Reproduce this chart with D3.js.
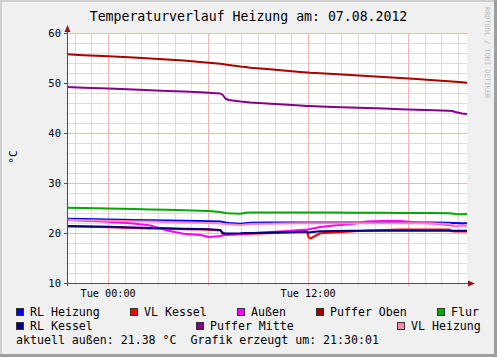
<!DOCTYPE html>
<html><head><meta charset="utf-8">
<script src="https://cdn.jsdelivr.net/npm/d3@7"></script>
<style>body{margin:0;background:#F0F0F0} svg{display:block}</style>
</head><body><svg id="c" width="497" height="357"></svg>
<script>
// ---- data ----
const times = ["2012-08-06 21:32","2012-08-06 22:32","2012-08-07 00:02","2012-08-07 01:32","2012-08-07 02:32",
  "2012-08-07 03:32","2012-08-07 04:32","2012-08-07 05:32","2012-08-07 06:02","2012-08-07 06:44",
  "2012-08-07 06:53","2012-08-07 07:02","2012-08-07 07:14","2012-08-07 07:56","2012-08-07 08:14",
  "2012-08-07 08:32","2012-08-07 09:32","2012-08-07 10:32","2012-08-07 11:32","2012-08-07 11:56",
  "2012-08-07 12:02","2012-08-07 12:08","2012-08-07 12:44","2012-08-07 13:32","2012-08-07 14:32",
  "2012-08-07 15:32","2012-08-07 16:32","2012-08-07 17:32","2012-08-07 18:32","2012-08-07 19:32",
  "2012-08-07 20:26","2012-08-07 20:38","2012-08-07 20:50","2012-08-07 21:14","2012-08-07 21:32"];
const rlHeizung = [22.85,22.8,22.7,22.6,22.55,22.5,22.45,22.4,22.35,22.3,
  22.2,22.1,22.0,21.85,21.95,22.05,22.1,22.1,22.1,22.1,
  22.1,22.1,22.1,22.1,22.1,22.1,22.1,22.1,22.1,22.1,
  22.05,22.0,22.0,21.95,21.95];
const vlKessel = [21.3,21.25,21.15,21.0,20.9,20.85,20.75,20.7,20.65,20.5,
  19.85,19.7,19.7,19.75,19.8,19.85,19.95,20.05,20.15,20.2,
  19.1,18.9,19.95,20.1,20.3,20.5,20.6,20.7,20.7,20.7,
  20.7,20.35,20.3,20.3,20.3];
const aussen = [22.6,22.45,22.25,21.9,21.5,20.5,19.85,19.6,19.2,19.4,
  19.55,19.6,19.65,19.8,19.9,19.95,20.15,20.35,20.6,20.7,
  20.75,20.8,21.2,21.5,21.75,22.3,22.4,22.4,22.1,21.9,
  21.6,21.5,21.4,21.5,21.4];
const pufferOben = [55.75,55.55,55.35,55.1,54.9,54.7,54.5,54.2,54.05,53.85,
  53.8,53.7,53.6,53.3,53.2,53.05,52.8,52.5,52.2,52.1,
  52.1,52.05,51.95,51.8,51.6,51.4,51.2,51.0,50.8,50.55,
  50.35,50.3,50.25,50.15,50.05];
const flur = [25.05,25.0,24.9,24.8,24.7,24.65,24.55,24.45,24.4,24.2,
  24.1,24.0,23.95,23.85,24.05,24.1,24.1,24.1,24.1,24.1,
  24.1,24.1,24.1,24.1,24.05,24.05,24.05,24.0,24.0,24.0,
  23.95,23.9,23.8,23.75,23.85];
const rlKessel = [21.4,21.35,21.25,21.1,21.0,20.95,20.85,20.8,20.75,20.6,
  20.0,19.9,19.9,19.95,20.0,20.0,20.05,20.15,20.25,20.3,
  20.05,20.15,20.35,20.4,20.45,20.45,20.45,20.45,20.45,20.45,
  20.45,20.45,20.45,20.45,20.45];
const pufferMitte = [49.2,49.05,48.9,48.7,48.55,48.4,48.3,48.15,48.05,47.9,
  47.6,46.9,46.6,46.3,46.2,46.1,45.9,45.7,45.5,45.4,
  45.4,45.4,45.3,45.2,45.1,45.0,44.9,44.75,44.65,44.55,
  44.45,44.4,44.2,43.9,43.8];
const vlHeizung = [22.65,22.55,22.45,22.35,22.3,22.2,22.1,22.05,22.0,21.9,
  21.85,21.8,21.75,21.6,21.7,21.8,21.85,21.9,21.95,21.95,
  21.95,21.95,21.95,21.95,21.95,21.95,21.95,21.95,21.95,21.9,
  21.8,21.6,21.45,21.4,21.4];
const seriesNames = ["RL Heizung","VL Kessel","Außen","Puffer Oben","Flur","RL Kessel","Puffer Mitte","VL Heizung"];
const seriesValues = [rlHeizung, vlKessel, aussen, pufferOben, flur, rlKessel, pufferMitte, vlHeizung];
const seriesColors = ["#0000FF","#FF0000","#FF00FF","#AA0000","#00AA00","#000080","#880088","#FF88AA"];
const yTicks = [10,20,30,40,50,60];
const xTickLabels = ["Tue 00:00","Tue 12:00"];
const title = "Temperaturverlauf Heizung am: 07.08.2012";
const yLabel = "°C";
const footer = "aktuell außen: 21.38 °C  Grafik erzeugt um: 21:30:01";
const watermark = "RRDTOOL / TOBI OETIKER";

// ---- layout ----
const W = 497, H = 357;
const X0 = 67, X1 = 467, Y0 = 283, Y1 = 33;
const FONT = "'DejaVu Sans Mono', monospace";
const parse = d3.timeParse("%Y-%m-%d %H:%M");
const tDates = times.map(parse);
const x = d3.scaleTime().domain([tDates[0], tDates[tDates.length-1]]).range([X0, X1]);
const y = d3.scaleLinear().domain([10, 60]).range([Y0, Y1]);

const svg = d3.select("#c");
svg.append("rect").attr("width", W).attr("height", H).attr("fill", "#F0F0F0");
svg.append("rect").attr("x",0).attr("y",0).attr("width",W).attr("height",2).attr("fill","#CFCFCF");
svg.append("rect").attr("x",0).attr("y",0).attr("width",2).attr("height",H).attr("fill","#CFCFCF");
svg.append("rect").attr("x",W-3).attr("y",0).attr("width",3).attr("height",H).attr("fill","#9E9E9E");
svg.append("rect").attr("x",0).attr("y",H-3).attr("width",W).attr("height",3).attr("fill","#9E9E9E");

svg.append("rect").attr("x", X0).attr("y", Y1).attr("width", X1 - X0).attr("height", Y0 - Y1).attr("fill", "#FFFFFF");

const grid = svg.append("g").attr("shape-rendering", "crispEdges");
// horizontal grid
d3.range(12, 60, 2).filter(v => v % 10 !== 0).forEach(v => {
  grid.append("line").attr("x1", X0 - 2).attr("x2", X1).attr("y1", y(v) + 0.5).attr("y2", y(v) + 0.5)
    .attr("stroke", "#DCDCDC").attr("stroke-width", 1);
});
// vertical grid (hourly)
const hours = d3.timeHour.range(x.domain()[0], x.domain()[1]);
hours.forEach(h => {
  if (h.getHours() % 6 === 0) return;
  grid.append("line").attr("x1", Math.round(x(h)) + 0.5).attr("x2", Math.round(x(h)) + 0.5)
    .attr("y1", Y1).attr("y2", Y0 + 2).attr("stroke", "#DCDCDC");
});
yTicks.forEach(v => {
  grid.append("line").attr("x1", X0 - 3).attr("x2", X1).attr("y1", y(v) + 0.5).attr("y2", y(v) + 0.5)
    .attr("stroke", "#F4B4B4");
});
hours.filter(h => h.getHours() % 6 === 0).forEach(h => {
  grid.append("line").attr("x1", Math.round(x(h)) + 0.5).attr("x2", Math.round(x(h)) + 0.5)
    .attr("y1", Y1).attr("y2", Y0 + 3).attr("stroke", "#F4B4B4");
});

// series lines
const line = d3.line().x((d, i) => x(tDates[i])).y(d => y(d));
seriesValues.forEach((vals, i) => {
  svg.append("path").attr("d", line(vals)).attr("fill", "none")
    .attr("stroke", seriesColors[i]).attr("stroke-width", 2).attr("stroke-linejoin", "round");
});

// axes
const ax = svg.append("g").attr("shape-rendering", "crispEdges");
ax.append("line").attr("x1", X0 + 0.5).attr("x2", X0 + 0.5).attr("y1", Y0 + 3).attr("y2", Y1 - 4)
  .attr("stroke", "#505050");
ax.append("line").attr("x1", X0 - 3).attr("x2", X1 + 3).attr("y1", Y0 + 0.5).attr("y2", Y0 + 0.5)
  .attr("stroke", "#505050");
yTicks.forEach(v => {
  ax.append("line").attr("x1", X0 - 3).attr("x2", X0).attr("y1", y(v) + 0.5).attr("y2", y(v) + 0.5).attr("stroke", "#505050");
});
svg.append("path").attr("d", `M${X0-2.5},${Y1-1} L${X0+3.5},${Y1-1} L${X0+0.5},${Y1-8} Z`).attr("fill", "#8B1A1A");
svg.append("path").attr("d", `M${X1+1},${Y0-2.5} L${X1+1},${Y0+3.5} L${X1+8},${Y0+0.5} Z`).attr("fill", "#8B1A1A");

// y tick labels
yTicks.forEach(v => {
  svg.append("text").attr("x", 61).attr("y", y(v) + 4).attr("text-anchor", "end")
    .attr("font-family", FONT).attr("font-size", 10.5).attr("fill", "#000").text(v);
});
// x tick labels
const xTickDates = [parse("2012-08-07 00:00"), parse("2012-08-07 12:00")];
xTickDates.forEach((d, i) => {
  svg.append("text").attr("x", x(d)).attr("y", 297).attr("text-anchor", "middle")
    .attr("font-family", FONT).attr("font-size", 10.2).attr("fill", "#000").text(xTickLabels[i]);
});

// title
svg.append("text").attr("x", 248.5).attr("y", 21).attr("text-anchor", "middle")
  .attr("font-family", FONT).attr("font-size", 13.2).attr("fill", "#000").text(title);
// y label
svg.append("text").attr("transform", "translate(17,157) rotate(-90)").attr("text-anchor", "middle")
  .attr("font-family", FONT).attr("font-size", 11).attr("fill", "#000").text(yLabel);
// watermark
svg.append("text").attr("transform", "translate(484.5,7) rotate(90)")
  .attr("font-family", FONT).attr("font-size", 6.9).attr("fill", "#BBBBBB").text(watermark);

// legend
const legendPos = [[30,315.5],[144,315.5],[251,315.5],[330,315.5],[451,315.5],[30,329.5],[210,329.5],[411,329.5]];
seriesNames.forEach((name, i) => {
  const [lx, ly] = legendPos[i];
  svg.append("rect").attr("x", lx - 13.5).attr("y", ly - 7.5).attr("width", 7).attr("height", 7)
    .attr("fill", seriesColors[i]).attr("stroke", "#333").attr("stroke-width", 1)
    .attr("shape-rendering", "crispEdges");
  svg.append("text").attr("x", lx).attr("y", ly).attr("font-family", FONT).attr("font-size", 11.6)
    .attr("fill", "#000").text(name);
});
svg.append("text").attr("x", 16).attr("y", 343.5).attr("font-family", FONT).attr("font-size", 11.6)
  .attr("fill", "#000").attr("xml:space", "preserve").style("white-space", "pre").text(footer);
</script>
</body></html>
